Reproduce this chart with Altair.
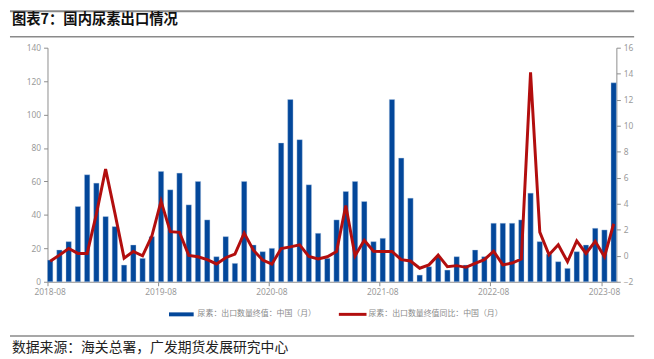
import altair as alt
import pandas as pd

# ---- data ----
months = [f"{y}-{m:02d}" for y in range(2018, 2024) for m in range(1, 13)]
months = months[months.index("2018-08"): months.index("2023-09") + 1]

exports = [13, 19, 24, 45, 64, 59, 39, 33, 10, 22, 14, 27,
           66, 55, 65, 46, 60, 37, 15, 27, 11, 60, 22, 18,
           20, 83, 109, 85, 58, 29, 14, 37, 54, 60, 48, 24,
           26, 109, 74, 50, 4, 9, 15, 7, 15, 10, 19, 15,
           35, 35, 35, 37, 53, 24, 16.5, 12, 8, 18, 22, 32,
           31, 119]

yoy = [-0.43, 0.05, 0.56, 0.18, 0.18, 3.2, 6.66, 3.3, -0.18, 0.33, 0.0, 1.5,
       4.2, 1.85, 1.8, 0.03, -0.08, -0.3, -0.63, -0.15, 0.13, 1.75, 0.43, -0.33,
       -0.65, 0.56, 0.68, 0.84, -0.05, -0.25, -0.08, 0.33, 3.87, 0.0, 1.19, 0.35,
       0.33, 0.33, -0.3, -0.4, -0.96, -0.7, 0.05, -0.84, -0.76, -0.89, -0.58, -0.3,
       0.35, -0.7, -0.56, -0.25, 14.1, 1.82, 0.08, 0.84, -0.46, 1.14, 0.18, 1.11,
       -0.08, 2.46]

tick_months = ["2018-08", "2019-08", "2020-08", "2021-08", "2022-08", "2023-08"]
left_ticks = [0, 20, 40, 60, 80, 100, 120, 140]
right_ticks = [-2, 0, 2, 4, 6, 8, 10, 12, 14, 16]

title_text = "图表7：国内尿素出口情况"
source_text = "数据来源：海关总署，广发期货发展研究中心"
legend_bar = "尿素：出口数量终值：中国（月）"
legend_line = "尿素：出口数量终值同比：中国（月）"

BLUE = "#03479A"
RED = "#B20E0E"
GREY = "#9a9a9a"

df = pd.DataFrame({"month": months, "exports": exports, "yoy": yoy})
one = pd.DataFrame({"k": [0]})

W, H = 576, 237

x_enc = alt.X("month:O", sort=months,
              scale=alt.Scale(paddingInner=0.42, paddingOuter=0),
              axis=alt.Axis(values=tick_months, bandPosition=0, labelAngle=0,
                            tickSize=4, labelFontSize=8.5, labelColor=GREY,
                            labelFont="Noto Sans", domainColor="#8c8c8c",
                            tickColor="#8c8c8c", labelPadding=2, title=None,
                            labelAlign="center"))

bars = alt.Chart(df).mark_bar(color=BLUE, stroke="#b7cbe6", strokeWidth=0.4).encode(
    x=x_enc,
    y=alt.Y("exports:Q", scale=alt.Scale(domain=[0, 140], nice=False),
            axis=alt.Axis(values=left_ticks, orient="left", grid=False, tickSize=4,
                          labelFontSize=8.5, labelColor=GREY, labelFont="Noto Sans",
                          domainColor="#8c8c8c", tickColor="#8c8c8c",
                          labelPadding=3, title=None)),
)

line = alt.Chart(df).mark_line(color=RED, strokeWidth=3, strokeJoin="miter").encode(
    x=x_enc,
    y=alt.Y("yoy:Q", scale=alt.Scale(domain=[-2, 16], nice=False, zero=False),
            axis=alt.Axis(values=right_ticks, orient="right", grid=False, tickSize=4,
                          labelFontSize=8.5, labelColor=GREY, labelFont="Noto Sans",
                          domainColor="#8c8c8c", tickColor="#8c8c8c",
                          labelPadding=3, title=None)),
)

def rule(x1, x2, y, color, width):
    return alt.Chart(one).mark_rule(color=color, strokeWidth=width).encode(
        x=alt.value(x1), x2=alt.value(x2), y=alt.value(y))

def text(s, x, y, size, color, weight="normal", font="Noto Sans CJK SC"):
    return alt.Chart(one).mark_text(align="left", baseline="middle", fontSize=size,
                                    color=color, fontWeight=weight, font=font).encode(
        x=alt.value(x), y=alt.value(y), text=alt.value(s))

deco = [
    rule(-38, 594, -37, "#8a8a8a", 2),
    text(title_text, -36, -28, 14.5, "#111111", "bold"),
    rule(-38, 594, -11, "#8a8a8a", 1.5),
    rule(123, 148, 270, BLUE, 4),
    text(legend_bar, 152, 270, 8, "#8a8a8a"),
    rule(295, 323, 270, RED, 3),
    text(legend_line, 325, 270, 8, "#8a8a8a"),
    rule(-38, 594, 292, "#8a8a8a", 1.5),
    text(source_text, -36, 304, 14, "#222222"),
]

chart = alt.layer(bars, line, *deco).resolve_scale(y="independent").properties(
    width=W, height=H,
    autosize=alt.AutoSizeParams(type="none"),
    padding={"left": 40, "top": 38, "right": 30, "bottom": 76},
).configure_view(stroke=None)

chart.save("out.html", embed_options={"renderer": "svg", "actions": False})
